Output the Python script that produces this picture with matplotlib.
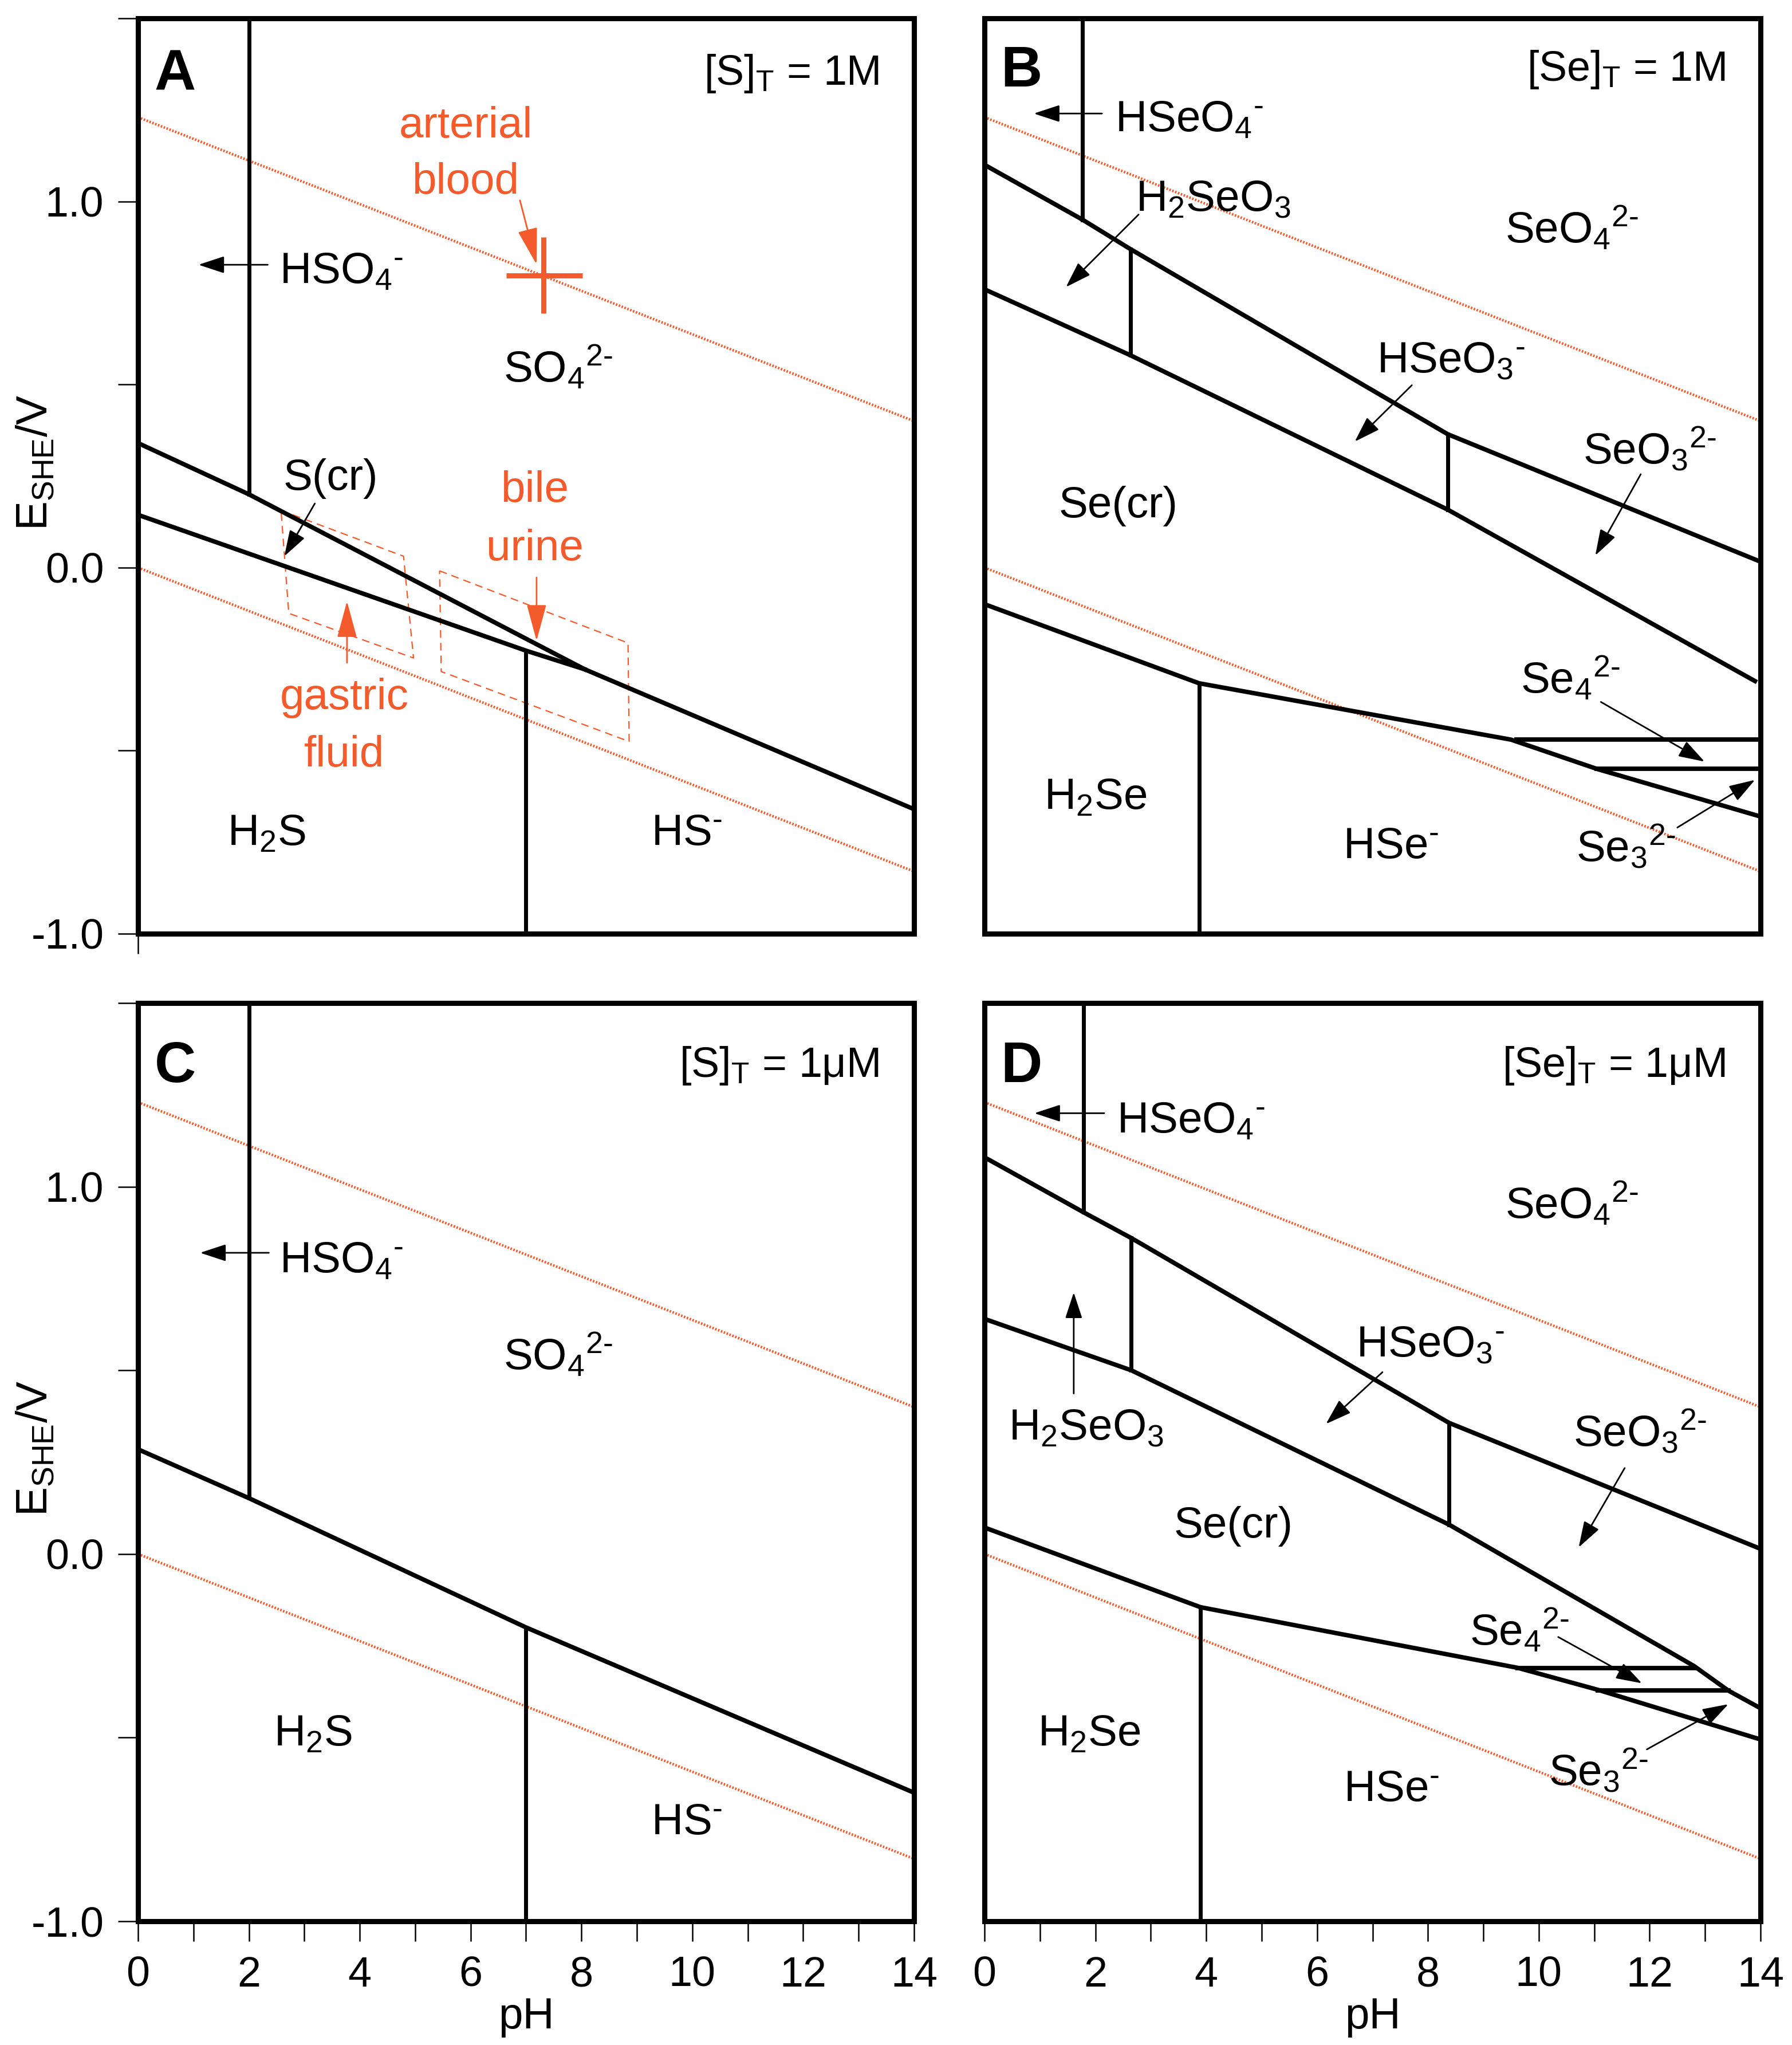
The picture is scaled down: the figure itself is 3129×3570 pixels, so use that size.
import matplotlib
matplotlib.use("Agg")
import matplotlib.pyplot as plt
from matplotlib.patches import Polygon

plt.rcParams['font.family'] = ['Liberation Sans', 'DejaVu Sans']
plt.rcParams['mathtext.fontset'] = 'custom'
plt.rcParams['mathtext.rm'] = 'Liberation Sans'
plt.rcParams['mathtext.it'] = 'Liberation Sans'
plt.rcParams['mathtext.bf'] = 'Liberation Sans:bold'

RED = '#f35b2c'

# ===== values (pH, E / V vs SHE) =====
# water stability limits, pH 0 -> 14
water_ph = [0, 14]
o2_E = [1.23, 0.40]
h2_E = [0.0, -0.83]

# A : [S]T = 1M
a_upper_ph = [0, 2.0, 8.06]
a_upper_E = [0.34, 0.20, -0.278]
a_lower_ph = [0, 7.0, 8.06]
a_lower_E = [0.144, -0.227, -0.278]
a_hs_ph = [8.06, 14]
a_hs_E = [-0.278, -0.66]
a_vert_ph = [2.0, 7.0]
a_vert_lo = [0.20, -1.0]
a_vert_hi = [1.5, -0.227]

# C : [S]T = 1uM
c_line_ph = [0, 2.0, 7.0, 14]
c_line_E = [0.285, 0.152, -0.20, -0.65]
c_vert_ph = [2.0, 7.0]
c_vert_lo = [0.152, -1.0]
c_vert_hi = [1.5, -0.20]

# B : [Se]T = 1M
b_upper_ph = [0, 1.77, 2.63, 8.36, 14]
b_upper_E = [1.10, 0.95, 0.87, 0.364, 0.016]
b_secr_ph = [0, 2.63, 8.36, 13.9]
b_secr_E = [0.76, 0.58, 0.158, -0.31]
b_lower_ph = [0, 3.87, 9.5, 11.05, 14]
b_lower_E = [-0.10, -0.316, -0.47, -0.55, -0.68]
b_vert_ph = [1.77, 2.63, 8.36, 3.87]
b_vert_lo = [0.95, 0.58, 0.158, -1.0]
b_vert_hi = [1.5, 0.87, 0.364, -0.316]
b_horiz_E = [-0.47, -0.55]
b_horiz_from = [9.6, 11.05]
b_horiz_to = [14, 14]

# D : [Se]T = 1uM
d_upper_ph = [0, 1.79, 2.65, 8.38, 14]
d_upper_E = [1.08, 0.93, 0.86, 0.357, 0.014]
d_secr_ph = [0, 2.65, 8.38, 12.8, 13.42, 14]
d_secr_E = [0.64, 0.50, 0.08, -0.305, -0.372, -0.42]
d_lower_ph = [0, 3.9, 9.62, 11.07, 14]
d_lower_E = [0.072, -0.145, -0.31, -0.37, -0.505]
d_vert_ph = [1.79, 2.65, 8.38, 3.9]
d_vert_lo = [0.93, 0.50, 0.08, -1.0]
d_vert_hi = [1.5, 0.86, 0.357, -0.145]
d_horiz_E = [-0.31, -0.372]
d_horiz_from = [9.62, 11.07]
d_horiz_to = [12.8, 13.42]

# body fluids (panel A)
blood_ph_bar = [6.64, 8.02]
blood_E_bar = [0.694, 0.903]
blood_ph = 7.31
blood_E = 0.797
gastric_box_ph = [2.58, 4.79, 4.97, 2.72]
gastric_box_E = [0.156, 0.031, -0.247, -0.125]
bile_box_ph = [5.44, 8.84, 8.86, 5.47]
bile_box_E = [-0.009, -0.206, -0.475, -0.284]

M = '\u2010'  # short hyphen used as charge sign
ONE = f'$^{M}$'
TWO = f'$^{{2{M}}}$'

# labels: text, pH, E (cap centre), alignment
a_labels = [('HSO$_4$' + ONE, 2.55, 0.82, 'left'),
            ('SO$_4$' + TWO, 7.58, 0.55, 'center'),
            ('S(cr)', 3.48, 0.255, 'center'),
            (r'H$_2$S', 2.32, -0.714, 'center'),
            ('HS' + ONE, 9.9, -0.714, 'center')]
c_labels = [('HSO$_4$' + ONE, 2.55, 0.81, 'left'),
            ('SO$_4$' + TWO, 7.58, 0.545, 'center'),
            (r'H$_2$S', 3.16, -0.479, 'center'),
            ('HS' + ONE, 9.9, -0.72, 'center')]
b_labels = [('HSeO$_4$' + ONE, 2.36, 1.234, 'left'),
            (r'H$_2$SeO$_3$', 2.73, 1.017, 'left'),
            ('SeO$_4$' + TWO, 10.6, 0.93, 'center'),
            ('HSeO$_3$' + ONE, 8.41, 0.575, 'center'),
            ('SeO$_3$' + TWO, 12.0, 0.325, 'center'),
            ('Se(cr)', 2.41, 0.18, 'center'),
            ('Se$_4$' + TWO, 10.57, -0.30, 'center'),
            (r'H$_2$Se', 2.0, -0.617, 'center'),
            ('HSe' + ONE, 7.33, -0.75, 'center'),
            ('Se$_3$' + TWO, 11.57, -0.76, 'center')]
d_labels = [('HSeO$_4$' + ONE, 2.39, 1.19, 'left'),
            ('SeO$_4$' + TWO, 10.6, 0.957, 'center'),
            (r'H$_2$SeO$_3$', 1.83, 0.354, 'center'),
            ('HSeO$_3$' + ONE, 8.04, 0.58, 'center'),
            ('SeO$_3$' + TWO, 11.83, 0.335, 'center'),
            ('Se(cr)', 4.49, 0.088, 'center'),
            ('Se$_4$' + TWO, 9.65, -0.205, 'center'),
            ('Se$_3$' + TWO, 11.07, -0.588, 'center'),
            (r'H$_2$Se', 1.89, -0.479, 'center'),
            ('HSe' + ONE, 7.34, -0.63, 'center')]

# arrows: tail pH, tail E, head pH, head E
a_arrows = [(2.34, 0.827, 1.09, 0.827), (3.19, 0.175, 2.64, 0.031)]
c_arrows = [(2.36, 0.82, 1.12, 0.82)]
b_arrows = [(2.12, 1.24, 0.89, 1.24), (2.78, 0.964, 1.47, 0.766),
            (7.71, 0.498, 6.68, 0.344), (11.84, 0.255, 11.02, 0.033),
            (11.12, -0.367, 12.99, -0.53), (12.5, -0.71, 13.9, -0.58)]
d_arrows = [(2.16, 1.20, 0.9, 1.20), (1.61, 0.437, 1.61, 0.712),
            (7.18, 0.495, 6.16, 0.354), (11.55, 0.234, 10.72, 0.018),
            (10.35, -0.226, 11.86, -0.352), (11.95, -0.532, 13.42, -0.409)]
red_arrows = [(6.89, 1.003, 7.19, 0.828), (3.77, -0.26, 3.77, -0.092),
              (7.19, -0.027, 7.19, -0.20)]
red_labels = [('arterial', 5.91, 1.217), ('blood', 5.91, 1.064),
              ('bile', 7.16, 0.223), ('urine', 7.16, 0.063),
              ('gastric', 3.72, -0.344), ('fluid', 3.72, -0.50)]

W, H = 3129, 3570
fig = plt.figure(figsize=(W / 100, H / 100), dpi=100)


def add_panel(l, t, r, b):
    return fig.add_axes([l / W, 1 - b / H, (r - l) / W, (b - t) / H])


axA = add_panel(241, 32, 1596, 1630)
axB = add_panel(1719, 32, 3074, 1630)
axC = add_panel(241, 1751, 1596, 3354)
axD = add_panel(1719, 1751, 3074, 3354)

LW = 5.6
FS = 55


def put(ax, s, x, y, ha='center', size=FS, color='k', weight='normal'):
    # y is the centre of the capitals -> shift to baseline
    half_cap = size * 0.716 * (100 / 72) / 2 / 640
    ax.text(x, y - half_cap, s, ha=ha, va='baseline', fontsize=size,
            color=color, fontweight=weight, zorder=6)


def arrow(ax, a, color='k', big=False):
    hl, hw = (1.0, 0.27) if big else (0.7, 0.23)
    ax.annotate('', xy=(a[2], a[3]), xytext=(a[0], a[1]), zorder=6,
                arrowprops=dict(arrowstyle=f'-|>,head_length={hl},head_width={hw}',
                                color=color, lw=2, shrinkA=0, shrinkB=0,
                                mutation_scale=40))


for ax in [axA, axB, axC, axD]:
    ax.set_xlim(0, 14)
    ax.set_ylim(-1.0, 1.5)
    for sp in ax.spines.values():
        sp.set_linewidth(6.5)
    ax.tick_params(direction='out', length=25, width=1.8, labelsize=53, pad=18)
    # water limits
    ax.plot(water_ph, o2_E, color=RED, lw=3.2, ls=(0, (0.6, 0.6)), zorder=2)
    ax.plot(water_ph, h2_E, color=RED, lw=3.2, ls=(0, (0.6, 0.6)), zorder=2)

for ax in [axA, axC]:
    ax.set_yticks([-1.0, -0.5, 0.0, 0.5, 1.0, 1.5])
    ax.set_yticklabels(['-1.0', '', '0.0', '', '1.0', ''])
    ax.set_ylabel(r'E$_{\mathrm{SHE}}$/V', fontsize=FS)
    ax.yaxis.set_label_coords(-0.105, 0.515)
for ax in [axB, axD]:
    ax.set_yticks([])
for ax in [axC, axD]:
    ax.set_xticks(range(15))
    ax.set_xticklabels([str(i) if i % 2 == 0 else '' for i in range(15)])
    ax.set_xlabel('pH', fontsize=FS, labelpad=2)
axA.set_xticks([0])
axA.set_xticklabels([''])
axB.set_xticks([])


def boundaries(ax, lines, vph, vlo, vhi, hE=None, h0=None, h1=None):
    for ph, E in lines:
        ax.plot(ph, E, color='k', lw=LW, zorder=4, solid_joinstyle='miter')
    for x, lo, hi in zip(vph, vlo, vhi):
        ax.plot([x, x], [lo, hi], color='k', lw=LW - 0.6, zorder=4)
    if hE is not None:
        for e, x0, x1 in zip(hE, h0, h1):
            ax.plot([x0, x1], [e, e], color='k', lw=LW, zorder=4)


boundaries(axA, [(a_upper_ph, a_upper_E), (a_lower_ph, a_lower_E), (a_hs_ph, a_hs_E)],
           a_vert_ph, a_vert_lo, a_vert_hi)
boundaries(axC, [(c_line_ph, c_line_E)], c_vert_ph, c_vert_lo, c_vert_hi)
boundaries(axB, [(b_upper_ph, b_upper_E), (b_secr_ph, b_secr_E), (b_lower_ph, b_lower_E)],
           b_vert_ph, b_vert_lo, b_vert_hi, b_horiz_E, b_horiz_from, b_horiz_to)
boundaries(axD, [(d_upper_ph, d_upper_E), (d_secr_ph, d_secr_E), (d_lower_ph, d_lower_E)],
           d_vert_ph, d_vert_lo, d_vert_hi, d_horiz_E, d_horiz_from, d_horiz_to)

for ax, labels, arrows in [(axA, a_labels, a_arrows), (axB, b_labels, b_arrows),
                           (axC, c_labels, c_arrows), (axD, d_labels, d_arrows)]:
    for s, x, y, ha in labels:
        put(ax, s, x, y, ha=ha)
    for a in arrows:
        arrow(ax, a)

# panel letters and total concentrations
for ax, letter, conc, y in [(axA, 'A', r'[S]$_\mathrm{T}$ = 1M', 1.36),
                            (axB, 'B', r'[Se]$_\mathrm{T}$ = 1M', 1.37),
                            (axC, 'C', r'[S]$_\mathrm{T}$ = 1μM', 1.34),
                            (axD, 'D', r'[Se]$_\mathrm{T}$ = 1μM', 1.34)]:
    put(ax, letter, 0.67, y, size=72, weight='bold')
    put(ax, conc, 13.37, y, ha='right', size=53)

# body fluids on panel A
axA.plot(blood_ph_bar, [blood_E, blood_E], color=RED, lw=6.5, solid_capstyle='butt', zorder=5)
axA.plot([blood_ph, blood_ph], blood_E_bar, color=RED, lw=6.5, solid_capstyle='butt', zorder=5)
for bx, by in [(gastric_box_ph, gastric_box_E), (bile_box_ph, bile_box_E)]:
    axA.add_patch(Polygon(list(zip(bx, by)), closed=True, fill=False, edgecolor=RED,
                          lw=1.6, ls=(0, (6, 4)), joinstyle='round', zorder=3))
for a in red_arrows:
    arrow(axA, a, color=RED, big=True)
for s, x, y in red_labels:
    put(axA, s, x, y, color=RED)

fig.savefig('out.png', dpi=100, facecolor='white')
